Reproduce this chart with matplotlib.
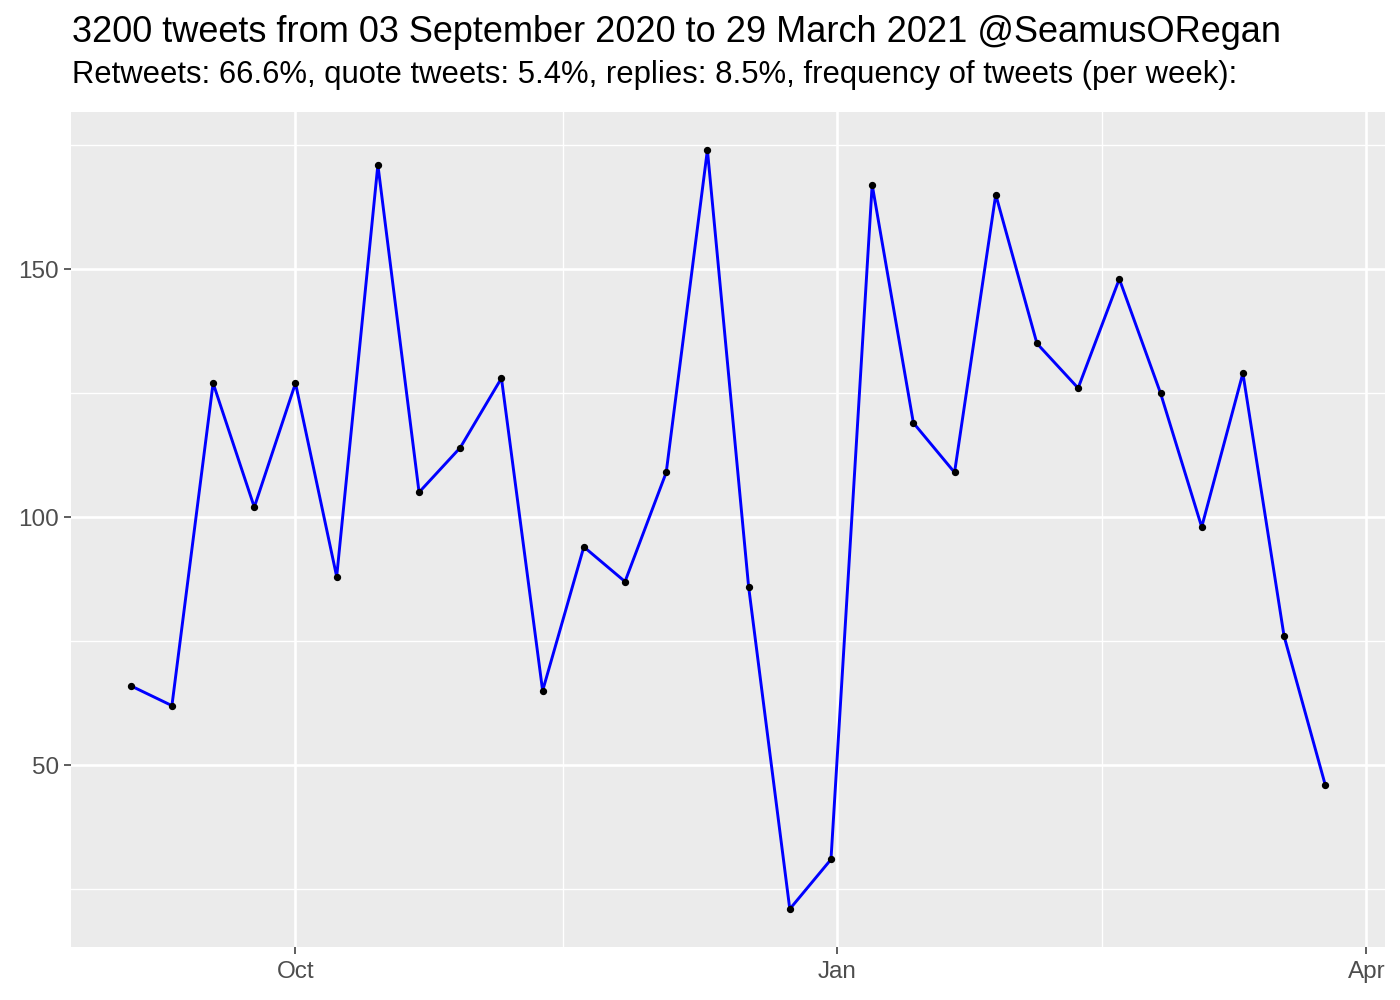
import matplotlib
matplotlib.use("Agg")
import matplotlib.pyplot as plt
import numpy as np
import pandas as pd

# weekly tweet counts, week starting 2020-09-03
weeks = pd.date_range("2020-09-03", periods=30, freq="7D")
tweets = [66, 62, 127, 102, 127, 88, 171, 105, 114, 128,
          65, 94, 87, 109, 174, 86, 21, 31, 167, 119,
          109, 165, 135, 126, 148, 125, 98, 129, 76, 46]

title = "3200 tweets from 03 September 2020 to 29 March 2021 @SeamusORegan"
subtitle = ("Retweets: 66.6%, quote tweets: 5.4%, replies: 8.5%, "
            "frequency of tweets (per week):")

x_breaks = pd.to_datetime(["2020-10-01", "2021-01-01", "2021-04-01"])
x_labels = ["Oct", "Jan", "Apr"]
x_minor = pd.to_datetime(["2020-11-15T12:00", "2021-02-15T00:00"])
y_breaks = [50, 100, 150]
y_minor = [25, 75, 125, 175]

plt.rcParams["font.family"] = ["Liberation Sans", "DejaVu Sans"]

fig = plt.figure(figsize=(14, 10), dpi=100)
ax = fig.add_axes([71 / 1400, 53 / 1000, (1385 - 71) / 1400, (947 - 112) / 1000])
ax.set_facecolor("#EBEBEB")
for s in ax.spines.values():
    s.set_visible(False)

# ggplot-like expansion of 5%
span = weeks[-1] - weeks[0]
ax.set_xlim(weeks[0] - span * 0.05, weeks[-1] + span * 0.05)
yr = max(tweets) - min(tweets)
ax.set_ylim(min(tweets) - 0.05 * yr, max(tweets) + 0.05 * yr)

ax.set_xticks(x_breaks)
ax.set_xticklabels(x_labels)
ax.set_xticks(x_minor, minor=True)
ax.set_yticks(y_breaks)
ax.set_yticks(y_minor, minor=True)

ax.grid(which="major", color="white", linewidth=1.9)
ax.grid(which="minor", color="white", linewidth=1.0)
ax.set_axisbelow(True)

ax.tick_params(which="major", length=5, width=1.1, color="#333333",
               labelsize=17.5, labelcolor="#4D4D4D")
ax.tick_params(axis="x", which="major", pad=5)
ax.tick_params(axis="y", which="major", pad=3.5)
ax.tick_params(which="minor", length=0)

ax.plot(weeks, tweets, color="blue", linewidth=2.1, zorder=3)
ax.scatter(weeks, tweets, s=18, color="black", zorder=4)

fig.text(72 / 1400, 1 - 42 / 1000, title, fontsize=26.0, va="baseline", ha="left")
fig.text(72 / 1400, 1 - 83 / 1000, subtitle, fontsize=22.3, va="baseline", ha="left")

fig.savefig("out.png", dpi=100)
